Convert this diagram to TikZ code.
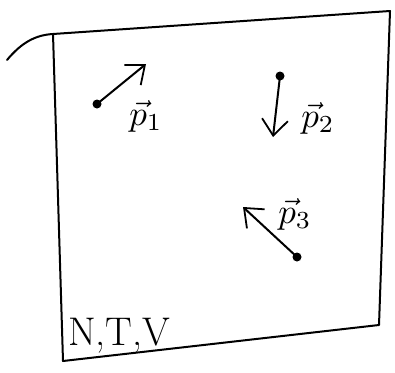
\documentclass[tikz,border=0pt]{standalone}
\usepackage{fontspec}
\usetikzlibrary{arrows.meta}
\newcommand{\biglab}[1]{\scalebox{3.5}{$#1$}}
\begin{document}
\begin{tikzpicture}[x=1pt,y=-1pt,
  edge/.style={line width=2pt, line cap=round, line join=round},
  vec/.style={edge, -{Straight Barb[length=16pt,width=26pt,line width=1.8pt]}},
  tail/.style={circle, fill, inner sep=0pt, minimum size=9pt},
  lab/.style={inner sep=0pt}]
\useasboundingbox (0,0) rectangle (395,372);
% box
\coordinate (tl) at (53,34);
\coordinate (tr) at (390,11);
\coordinate (br) at (379,325);
\coordinate (bl) at (63,361);
\draw[edge] (7,60) .. controls (22,42) and (36,35) .. (tl)
  -- (tr) -- (br) -- (bl) -- (tl);
% p1
\node[tail] (t1) at (97,104) {};
\coordinate (h1) at (146,64);
\draw[vec] (t1.center) -- (h1);
\node[lab] (l1) at (146,116) {\biglab{\vec{p}_1}};
% p2
\node[tail] (t2) at (280,76) {};
\coordinate (h2) at (273,137);
\draw[vec] (t2.center) -- (h2);
\node[lab] (l2) at (318,118) {\biglab{\vec{p}_2}};
% p3
\node[tail] (t3) at (297,257) {};
\coordinate (h3) at (243,207);
\draw[vec] (t3.center) -- (h3);
\node[lab] (l3) at (295,214) {\biglab{\vec{p}_3}};
% state
\node[font=\fontsize{40}{44}\selectfont, inner sep=0pt, anchor=south west] (s) at (68,353) {N,T,V};
\end{tikzpicture}
\end{document}
